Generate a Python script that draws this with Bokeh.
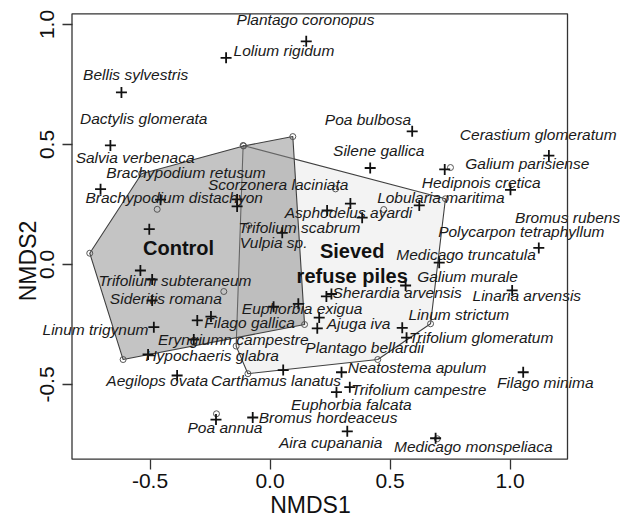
from bokeh.plotting import figure
from bokeh.models import ColumnDataSource, LabelSet, FixedTicker, Range1d, BoxAnnotation
from bokeh.core.properties import value
from bokeh.embed import file_html
from bokeh.resources import INLINE

# ---------------- data ----------------
x_ticks = [-0.5, 0.0, 0.5, 1.0]
x_tick_labels = ["-0.5", "0.0", "0.5", "1.0"]
y_ticks = [-0.5, 0.0, 0.5, 1.0]
y_tick_labels = ["-0.5", "0.0", "0.5", "1.0"]

# extent of the plotting box (NMDS1, NMDS2)
box_x = [-0.825, 1.2396]
box_y = [-0.811, 1.0446]

# site scores (NMDS1, NMDS2) by treatment
control_x = [-0.751, -0.535, -0.110, 0.095, 0.144, -0.612, -0.470, -0.1925]
control_y = [0.047, 0.378, 0.494, 0.533, -0.250, -0.396, 0.230, -0.1125]
sieved_x = [-0.112, 0.731, 0.669, 0.449, -0.092, -0.141, 0.273, 0.474, -0.088]
sieved_y = [0.496, 0.274, -0.247, -0.396, -0.455, -0.340, 0.315, 0.229, 0.1625]
other_x = [0.752, -0.223, 0.697]
other_y = [0.404, -0.622, -0.726]

# species scores
species_x = [0.151, -0.183, -0.619, -0.665, -0.706, -0.456, -0.503, -0.137, -0.137, 0.051,
             -0.540, -0.491, -0.491, -0.303, -0.246, -0.484, -0.3175, -0.508, 0.015, 0.118,
             0.205, 0.197, 0.235, 0.256, 0.055, 0.298, 0.335, 0.238, 0.384, 0.622,
             0.4175, 0.728, 0.5925, 1.162, 1.002, 1.120, 0.705, 0.565, 1.009, 0.551,
             0.569, 1.055, 0.3325, 0.277, 0.322, -0.072, -0.225, 0.690, -0.387]
species_y = [0.930, 0.861, 0.717, 0.496, 0.314, 0.270, 0.147, 0.271, 0.242, 0.132,
             -0.025, -0.0625, -0.150, -0.233, -0.217, -0.261, -0.3125, -0.375, -0.176, -0.164,
             -0.221, -0.266, -0.133, -0.123, -0.440, -0.449, 0.254, 0.225, 0.195, 0.246,
             0.402, 0.396, 0.555, 0.454, 0.311, 0.069, 0.0075, -0.0875, -0.108, -0.264,
             -0.305, -0.449, -0.511, -0.532, -0.695, -0.6375, -0.646, -0.724, -0.4625]

# species names and their label positions
species_names = [
    "Plantago coronopus", "Lolium rigidum", "Bellis sylvestris", "Dactylis glomerata",
    "Salvia verbenaca", "Brachypodium retusum", "Scorzonera laciniata",
    "Brachypodium distachyon", "Asphodelus ayardi", "Trifolium scabrum", "Vulpia sp.",
    "Poa bulbosa", "Silene gallica", "Cerastium glomeratum", "Galium parisiense",
    "Hedipnois cretica", "Lobularia maritima", "Bromus rubens", "Polycarpon tetraphyllum",
    "Medicago truncatula", "Galium murale", "Sherardia arvensis", "Linaria arvensis",
    "Euphorbia exigua", "Linum strictum", "Filago gallica", "Ajuga iva", "Linum trigynum",
    "Trifolium glomeratum", "Trifolium subteraneum", "Sideritis romana",
    "Eryngiumn campestre", "Plantago bellardii", "Hypochaeris glabra",
    "Neatostema apulum", "Aegilops ovata", "Carthamus lanatus", "Filago minima",
    "Trifolium campestre", "Euphorbia falcata", "Bromus hordeaceus", "Poa annua",
    "Aira cupanania", "Medicago monspeliaca"]
label_x = [0.148, 0.058, -0.560, -0.526, -0.562, -0.350, 0.034, -0.399, 0.327, 0.123, 0.015,
           0.408, 0.453, 1.1175, 1.072, 0.880, 0.712, 1.240, 1.047, 0.817, 0.823, 0.530,
           1.070, 0.134, 0.787, -0.085, 0.369, -0.727, 0.880, -0.396, -0.434, -0.153,
           0.395, -0.241, 0.613, -0.470, 0.025, 1.147, 0.620, 0.339, 0.242, -0.1875,
           0.253, 0.847]
label_y = [1.021, 0.892, 0.792, 0.607, 0.446, 0.385, 0.333, 0.280, 0.218, 0.153, 0.093,
           0.604, 0.475, 0.540, 0.420, 0.343, 0.280, 0.197, 0.1375, 0.042, -0.050, -0.115,
           -0.129, -0.183, -0.208, -0.243, -0.244, -0.271, -0.305, -0.067, -0.143, -0.314,
           -0.347, -0.379, -0.428, -0.483, -0.483, -0.490, -0.522, -0.585, -0.636, -0.680,
           -0.740, -0.758]

group_text = ["Control", "Sieved", "refuse piles"]
group_x = [-0.381, 0.3425, 0.3425]
group_y = [0.068, 0.058, -0.046]


def convex_hull(xs, ys):
    pts = sorted(set(zip(xs, ys)))
    def cross(o, a, b):
        return (a[0] - o[0]) * (b[1] - o[1]) - (a[1] - o[1]) * (b[0] - o[0])
    lower, upper = [], []
    for pt in pts:
        while len(lower) >= 2 and cross(lower[-2], lower[-1], pt) <= 0:
            lower.pop()
        lower.append(pt)
    for pt in reversed(pts):
        while len(upper) >= 2 and cross(upper[-2], upper[-1], pt) <= 0:
            upper.pop()
        upper.append(pt)
    hull = lower[:-1] + upper[:-1]
    return [h[0] for h in hull], [h[1] for h in hull]


FONT = "Liberation Sans"
W, H = 620, 521
PX_PER_UNIT = 240.0
ORIGIN_X, ORIGIN_Y = 269.5, 264.0   # canvas pixel of (0, 0)

p = figure(width=W, height=H,
           x_range=Range1d(-ORIGIN_X / PX_PER_UNIT, (W - ORIGIN_X) / PX_PER_UNIT),
           y_range=Range1d((ORIGIN_Y - H) / PX_PER_UNIT, ORIGIN_Y / PX_PER_UNIT),
           output_backend="svg", toolbar_location=None,
           min_border_left=0, min_border_right=0, min_border_top=0, min_border_bottom=0)
p.xgrid.visible = False
p.ygrid.visible = False
p.outline_line_color = None
p.background_fill_color = "white"
p.border_fill_color = "white"

p.xaxis.fixed_location = box_y[0]
p.yaxis.fixed_location = box_x[0]
p.xaxis.ticker = FixedTicker(ticks=x_ticks)
p.yaxis.ticker = FixedTicker(ticks=y_ticks)
p.xaxis.major_label_overrides = dict(zip(x_ticks, x_tick_labels))
p.yaxis.major_label_overrides = dict(zip(y_ticks, y_tick_labels))
p.yaxis.major_label_orientation = "vertical"
for ax in (p.xaxis, p.yaxis):
    ax.axis_line_color = None
    ax.major_tick_in = 0
    ax.major_tick_out = 10
    ax.minor_tick_line_color = None
    ax.major_tick_line_color = "#333333"
    ax.major_tick_line_width = 1.3
    ax.major_label_text_font = FONT
    ax.major_label_text_font_size = "21px"
    ax.major_label_text_color = "#111111"
    ax.axis_label_text_font = FONT
    ax.axis_label_text_font_size = "23px"
    ax.axis_label_text_font_style = "normal"
    ax.axis_label_text_color = "#111111"
p.xaxis.major_label_standoff = 5
p.xaxis.axis_label_standoff = 0
p.yaxis.major_label_standoff = 8
p.yaxis.axis_label_standoff = -3
p.xaxis.axis_label = "NMDS1"
p.yaxis.axis_label = "NMDS2"

# hulls
sx, sy = convex_hull(sieved_x, sieved_y)
p.patch(sx, sy, fill_color="#f3f3f3", line_color="#404040", line_width=1.1)
cx, cy = convex_hull(control_x, control_y)
p.patch(cx, cy, fill_color="#8a8a8a", fill_alpha=0.5, line_color="#404040", line_width=1.1)

# sites
p.scatter(control_x + sieved_x + other_x, control_y + sieved_y + other_y,
          marker="circle", size=6, fill_color=None, line_color="#555555", line_width=1)

# species
p.scatter(species_x, species_y, marker="cross", size=11, line_color="#111111", line_width=1.8)

lab_src = ColumnDataSource(dict(x=label_x, y=label_y, t=species_names))
p.add_layout(LabelSet(x="x", y="y", text="t", source=lab_src,
                      text_font=value(FONT), text_font_size=value("15.5px"),
                      text_font_style="italic", text_color="#1a1a1a",
                      text_align="center", text_baseline="middle"))

grp_src = ColumnDataSource(dict(x=group_x, y=group_y, t=group_text))
p.add_layout(LabelSet(x="x", y="y", text="t", source=grp_src,
                      text_font=value(FONT), text_font_size=value("20px"),
                      text_font_style="bold", text_color="#111111",
                      text_align="center", text_baseline="middle"))

# plotting box
p.add_layout(BoxAnnotation(left=box_x[0], right=box_x[1], bottom=box_y[0], top=box_y[1],
                           fill_alpha=0, line_color="#333333", line_alpha=1.0, line_width=1.3))

open("out.html", "w").write(file_html(p, INLINE))
